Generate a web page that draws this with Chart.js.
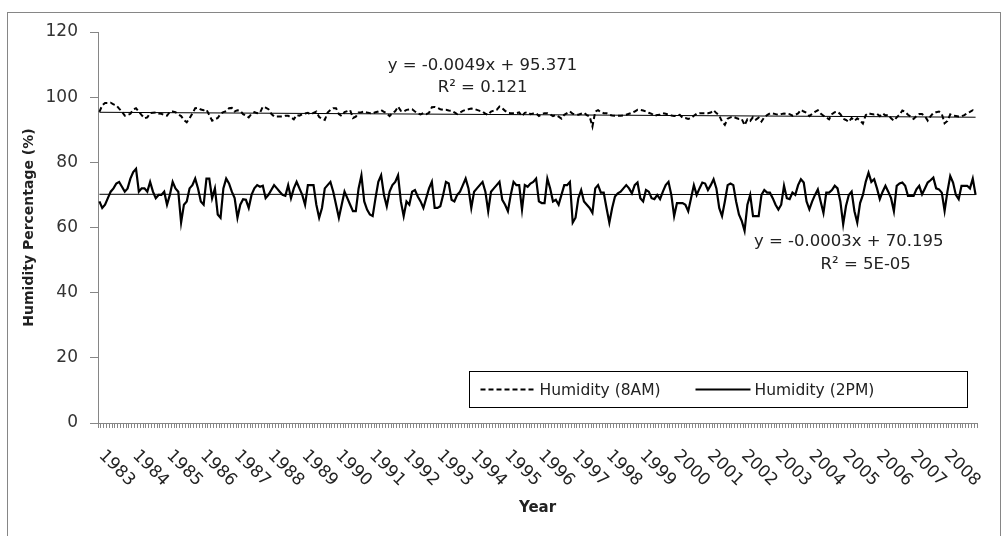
<!DOCTYPE html>
<html>
<head>
<meta charset="utf-8">
<title>Humidity 1983-2008</title>
<script src="https://cdn.jsdelivr.net/npm/chart.js@4.4.0/dist/chart.umd.min.js"></script>
<style>
   html, body { margin: 0; padding: 0; background: #fff; }
   #humidityChart { display: block; }
</style>
</head>
<body>
<canvas id="humidityChart" width="1008" height="536"></canvas>
<script>
// #region Data
const yearLabels = ['1983', '1984', '1985', '1986', '1987', '1988', '1989', '1990', '1991', '1992', '1993', '1994', '1995',
   '1996', '1997', '1998', '1999', '2000', '2001', '2002', '2003', '2004', '2005', '2006', '2007', '2008'];

// monthly categories, one per month, labelled only once per year on the axis
let monthLabels = [];
yearLabels.forEach(function (yr) {
   for (let m = 1; m <= 12; m++) {
      monthLabels.push(`${yr}-${m}`);
   }
});

// 8AM readings, one row per year (Jan..Dec)
const humidity8am = [
   95.5, 97.5, 98.2, 98.2, 98.3, 97.8, 97.5, 96.5, 95.6, 94.3, 94.5, 94.9,
   96.2, 96.6, 95.5, 94.5, 93.5, 93.8, 95.1, 95.2, 95.3, 95.0, 94.9, 94.5,
   94.3, 95.5, 95.6, 95.4, 94.7, 94.2, 93.0, 92.3, 93.5, 95.0, 96.6, 96.7,
   96.2, 96.0, 96.2, 94.5, 92.8, 93.2, 93.6, 94.9, 95.4, 95.7, 96.6, 96.7,
   95.6, 96.0, 95.8, 94.8, 94.3, 93.8, 94.9, 95.4, 95.1, 95.2, 97.1, 96.8,
   96.3, 94.9, 94.1, 94.1, 94.1, 94.1, 94.3, 94.3, 93.8, 93.2, 94.5, 94.3,
   94.8, 95.0, 95.2, 94.7, 95.2, 95.6, 93.9, 93.4, 93.0, 95.3, 96.1, 96.6,
   96.6, 94.8, 94.2, 95.4, 95.7, 96.0, 93.6, 94.0, 95.3, 95.4, 95.6, 95.3,
   95.1, 95.0, 95.4, 95.6, 96.0, 95.5, 95.0, 94.2, 95.1, 95.7, 97.1, 95.8,
   95.6, 96.1, 96.2, 96.3, 95.6, 95.0, 94.7, 95.1, 94.8, 95.2, 96.9, 97.0,
   96.7, 96.3, 96.1, 96.1, 95.9, 95.8, 95.3, 94.8, 95.3, 95.8, 96.1, 96.3,
   96.5, 96.4, 96.1, 95.8, 95.6, 94.9, 94.6, 95.6, 95.9, 96.1, 97.1, 96.6,
   95.8, 95.2, 95.1, 95.1, 95.1, 95.3, 94.2, 95.2, 95.4, 94.8, 95.0, 95.1,
   94.2, 94.8, 95.1, 95.1, 94.7, 94.2, 94.5, 94.0, 93.4, 94.6, 95.1, 95.6,
   94.9, 94.7, 94.6, 94.9, 95.2, 94.5, 94.1, 91.0, 95.6, 96.0, 95.4, 95.1,
   95.1, 94.6, 94.4, 94.3, 94.3, 94.3, 94.4, 94.6, 94.9, 95.2, 95.6, 96.1,
   96.1, 95.9, 95.6, 95.2, 94.9, 94.3, 94.5, 94.6, 95.1, 94.9, 94.6, 94.4,
   94.2, 94.4, 94.6, 93.7, 93.6, 93.3, 93.6, 94.3, 94.9, 95.1, 95.1, 95.1,
   95.1, 95.3, 96.0, 95.1, 94.4, 92.5, 91.5, 93.4, 93.8, 94.0, 93.6, 93.3,
   93.3, 91.4, 93.2, 92.7, 93.9, 93.1, 93.7, 92.5, 93.8, 94.5, 95.0, 95.0,
   94.8, 94.6, 94.8, 95.0, 94.9, 94.8, 94.3, 94.6, 95.0, 96.1, 95.6, 95.2,
   94.2, 94.9, 95.5, 96.0, 95.0, 94.3, 93.8, 93.2, 94.8, 95.4, 95.5, 94.8,
   93.4, 93.0, 92.4, 93.6, 92.7, 93.5, 92.8, 91.9, 94.5, 95.1, 94.8, 94.7,
   94.9, 94.2, 95.0, 94.4, 94.6, 93.5, 92.8, 93.8, 94.6, 95.9, 95.5, 94.6,
   94.0, 93.3, 94.2, 94.8, 94.8, 94.2, 92.8, 94.1, 95.2, 95.4, 95.6, 94.9,
   92.0, 92.7, 94.7, 94.3, 94.2, 94.1, 94.1, 94.5, 95.1, 95.5, 96.0, 95.8
];

// 2PM readings, one row per year (Jan..Dec)
const humidity2pm = [
   68, 66, 67, 69, 71, 72, 73.5, 74, 72.5, 71, 72, 75,
   77, 78, 71, 72, 72, 71, 74, 71, 69, 70, 70, 71,
   67, 70, 74, 72, 71, 61.5, 67, 68, 72, 73, 75, 72,
   68, 67, 75, 75, 69, 72, 64, 63, 72, 75, 73.5, 71,
   69, 63, 67, 68.7, 68.5, 66, 70, 72, 73, 72.5, 72.8, 69,
   70, 71.5, 73, 72, 71, 70, 69.7, 73, 69, 72, 74, 72,
   70, 67, 73, 73, 73, 67, 63, 66, 72, 73, 74, 71,
   67, 63, 67, 71, 69, 67, 65, 65, 72, 76, 68, 65.5,
   64, 63.5, 69, 74, 76, 70, 66.5, 71, 73, 74, 76, 68,
   63.5, 68, 67, 71, 71.5, 69.5, 68, 66, 69, 72, 74, 66,
   66, 66.5, 70, 74, 73.5, 68.5, 68, 70, 71, 73, 75, 72,
   66, 71, 72, 73, 74, 71, 65, 71, 72, 73, 74, 68.5,
   67, 65, 70, 74, 73, 73, 65.5, 73, 72.5, 73.5, 74, 75,
   68, 67.5, 67.5, 75, 72, 68, 68.5, 67, 70, 73, 73, 74,
   61.5, 63, 69, 71.5, 68, 67, 66, 64.5, 72, 73, 70.7, 70.7,
   66, 61.5, 66, 69.5, 70.5, 71, 72, 73, 72, 70.5, 73, 73.8,
   69, 68, 71.5, 71, 69, 68.7, 70, 68.7, 71, 73, 74, 70,
   63.5, 67.5, 67.5, 67.5, 67, 65, 69, 73, 70, 72, 73.8, 73.5,
   71.5, 73, 74.8, 72, 66, 63.5, 68, 73, 73.5, 73, 68, 64,
   62, 59, 67, 70, 63.5, 63.5, 63.5, 70, 71.5, 70.7, 70.7, 69,
   67, 65.5, 67, 72.8, 69, 68.7, 70.7, 70, 73, 74.8, 73.8, 68,
   65.6, 68, 70, 71.7, 68, 64.5, 70.7, 70.7, 71.5, 72.8, 72, 68,
   61, 66.6, 70, 71, 65, 61.5, 67.5, 70, 74, 76.8, 74, 74.8,
   72, 68.7, 71, 72.8, 71, 69, 65, 72.8, 73.5, 73.8, 72.8, 69.7,
   69.7, 69.7, 71.7, 72.8, 70.2, 72, 73.8, 74.5, 75.3, 72, 71.7, 70.7,
   65.1, 71, 75.8, 73.8, 70, 68.7, 72.8, 72.8, 72.8, 72, 75, 70
];

// linear trend end values (first and last month)
const trend8am = [95.366, 93.842];
const trend2pm = [70.195, 70.101];

const trendText8am = ['y = -0.0049x + 95.371', 'R\u00b2 = 0.121'];
const trendText2pm = ['y = -0.0003x + 70.195', 'R\u00b2 = 5E-05'];
// #endregion

const FONT = '"DejaVu Sans", Verdana, sans-serif';
const AXIS_GREY = '#868686';

// #region Plugins

// ***********************
// Name:    framePlugin
// Purpose: White background and the thin outer frame of the chart area.
// *************************
const framePlugin = {
   id: 'frame',
   beforeDraw(chart) {
      const ctx = chart.ctx;
      ctx.save();
      ctx.fillStyle = '#fff';
      ctx.fillRect(0, 0, chart.width, chart.height);
      ctx.strokeStyle = AXIS_GREY;
      ctx.lineWidth = 1;
      ctx.strokeRect(7.5, 12.5, 993, 540);
      ctx.restore();
   }
};

// ***********************
// Name:    yearTickPlugin
// Purpose: Year labels rotated downwards, one per January category.
// *************************
const yearTickPlugin = {
   id: 'yearTicks',
   afterDraw(chart) {
      const ctx = chart.ctx;
      const xScale = chart.scales.x;
      ctx.save();
      ctx.font = `17px ${FONT}`;
      ctx.fillStyle = '#222';
      ctx.textAlign = 'left';
      ctx.textBaseline = 'middle';
      yearLabels.forEach(function (yr, idx) {
         let px = xScale.getPixelForValue(idx * 12);
         ctx.save();
         ctx.translate(px + 2, xScale.top + 30);
         ctx.rotate(Math.PI / 4);
         ctx.fillText(yr, 0, 0);
         ctx.restore();
      });
      ctx.restore();
   }
};

// ***********************
// Name:    trendTextPlugin
// Purpose: Trend equations and R squared next to each trend line.
// *************************
const trendTextPlugin = {
   id: 'trendText',
   afterDraw(chart) {
      const ctx = chart.ctx;
      const xs = chart.scales.x;
      const ys = chart.scales.y;
      ctx.save();
      ctx.font = `16.5px ${FONT}`;
      ctx.fillStyle = '#222';
      ctx.textAlign = 'center';
      ctx.textBaseline = 'middle';
      ctx.fillText(trendText8am[0], xs.getPixelForValue(136), ys.getPixelForValue(109.6));
      ctx.fillText(trendText8am[1], xs.getPixelForValue(136), ys.getPixelForValue(103.0));
      ctx.fillText(trendText2pm[0], xs.getPixelForValue(266), ys.getPixelForValue(55.6));
      ctx.fillText(trendText2pm[1], xs.getPixelForValue(272), ys.getPixelForValue(48.5));
      ctx.restore();
   }
};

// ***********************
// Name:    boxLegendPlugin
// Purpose: Framed legend inside the plot area, built from the two data series.
// *************************
const boxLegendPlugin = {
   id: 'boxLegend',
   afterDraw(chart) {
      const ctx = chart.ctx;
      const box = { left: 469.5, top: 371.5, width: 498, height: 36 };
      const midY = box.top + box.height / 2;
      const items = chart.data.datasets.slice(0, 2);
      const starts = [box.left + 11, box.left + 226];

      ctx.save();
      ctx.fillStyle = '#fff';
      ctx.fillRect(box.left, box.top, box.width, box.height);
      ctx.strokeStyle = '#000';
      ctx.lineWidth = 1;
      ctx.strokeRect(box.left, box.top, box.width, box.height);

      ctx.font = `15.5px ${FONT}`;
      ctx.textAlign = 'left';
      ctx.textBaseline = 'middle';
      items.forEach(function (ds, i) {
         let x0 = starts[i];
         ctx.beginPath();
         ctx.setLineDash(ds.borderDash || []);
         ctx.lineWidth = ds.borderWidth;
         ctx.strokeStyle = ds.borderColor;
         ctx.moveTo(x0, midY);
         ctx.lineTo(x0 + 55, midY);
         ctx.stroke();
         ctx.setLineDash([]);
         ctx.fillStyle = '#222';
         ctx.fillText(ds.label, x0 + 59, midY + 1);
      });
      ctx.restore();
   }
};
// #endregion

// #region Chart
const data = {
   labels: monthLabels,
   datasets: [
      {
         label: 'Humidity (8AM)',
         data: humidity8am,
         borderColor: '#000',
         borderWidth: 2,
         borderDash: [5, 3],
         pointRadius: 0,
         tension: 0
      },
      {
         label: 'Humidity (2PM)',
         data: humidity2pm,
         borderColor: '#000',
         borderWidth: 2.2,
         pointRadius: 0,
         tension: 0
      },
      {
         label: 'Linear (8AM)',
         data: [{ x: monthLabels[0], y: trend8am[0] }, { x: monthLabels[monthLabels.length - 1], y: trend8am[1] }],
         borderColor: '#000',
         borderWidth: 1,
         pointRadius: 0
      },
      {
         label: 'Linear (2PM)',
         data: [{ x: monthLabels[0], y: trend2pm[0] }, { x: monthLabels[monthLabels.length - 1], y: trend2pm[1] }],
         borderColor: '#000',
         borderWidth: 1,
         pointRadius: 0
      }
   ]
};

const config = {
   type: 'line',
   data: data,
   options: {
      responsive: false,
      animation: false,
      devicePixelRatio: 1,
      layout: {
         padding: { top: 32, right: 31, bottom: 0, left: 0 }
      },
      plugins: {
         legend: { display: false },
         tooltip: { enabled: false }
      },
      scales: {
         x: {
            type: 'category',
            offset: true,
            grid: {
               display: true,
               drawOnChartArea: false,
               drawTicks: true,
               tickLength: 5,
               color: AXIS_GREY,
               offset: true
            },
            border: { display: true, color: AXIS_GREY, width: 1 },
            ticks: { display: false, autoSkip: false },
            title: {
               display: true,
               text: 'Year',
               color: '#222',
               font: { family: FONT, size: 15, weight: 'bold' },
               padding: { top: 0, bottom: 19 }
            },
            afterFit: function (scale) { scale.height = 113; }
         },
         y: {
            min: 0,
            max: 120,
            grid: {
               display: true,
               drawOnChartArea: false,
               drawTicks: true,
               tickLength: 8,
               color: AXIS_GREY
            },
            border: { display: true, color: AXIS_GREY, width: 1 },
            ticks: {
               stepSize: 20,
               padding: 12,
               color: '#333',
               font: { family: FONT, size: 17 }
            },
            title: {
               display: true,
               text: 'Humidity Percentage (%)',
               color: '#222',
               font: { family: FONT, size: 14, weight: 'bold' },
               padding: { top: 21, bottom: 0 }
            },
            afterFit: function (scale) { scale.width = 98; }
         }
      }
   },
   plugins: [framePlugin, yearTickPlugin, trendTextPlugin, boxLegendPlugin]
};

const humidityChart = new Chart(document.getElementById('humidityChart'), config);
// #endregion
</script>
</body>
</html>
